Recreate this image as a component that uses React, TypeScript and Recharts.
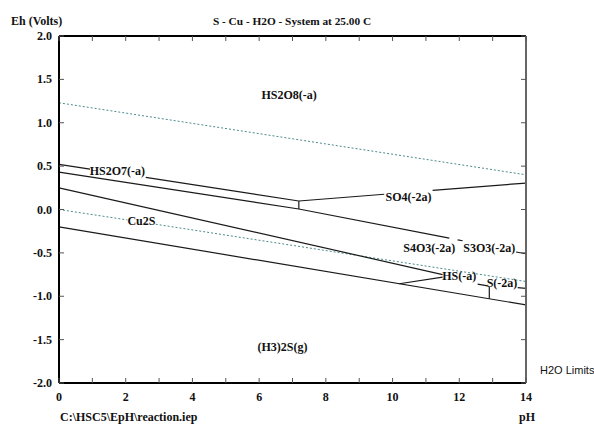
import React from 'react';
import { LineChart, Line, XAxis, YAxis, ReferenceDot } from 'recharts';

// pH / Eh coordinates
const h2oUpper = [{ ph: 0, eh: 1.23 }, { ph: 14, eh: 0.4 }];
const h2oLowerA = [{ ph: 0, eh: 0.0 }, { ph: 2.05, eh: -0.12 }];
const h2oLowerB = [{ ph: 2.9, eh: -0.17 }, { ph: 14, eh: -0.83 }];

const hs2o8LeftA = [{ ph: 0, eh: 0.52 }, { ph: 0.93, eh: 0.465 }];
const hs2o8LeftB = [{ ph: 2.6, eh: 0.37 }, { ph: 7.19, eh: 0.098 }];
const so4UpperA = [{ ph: 7.19, eh: 0.098 }, { ph: 9.75, eh: 0.176 }];
const so4UpperB = [{ ph: 11.2, eh: 0.22 }, { ph: 14, eh: 0.305 }];
const junctionA = [{ ph: 7.19, eh: 0.098 }, { ph: 7.19, eh: 0.006 }];

const so4Lower = [{ ph: 0, eh: 0.43 }, { ph: 7.19, eh: 0.006 }, { ph: 11.7, eh: -0.33 }];
const s4o3Bit = [{ ph: 11.95, eh: -0.35 }, { ph: 12.1, eh: -0.36 }];
const s3o3Bit = [{ ph: 13.7, eh: -0.49 }, { ph: 14, eh: -0.51 }];

const cu2sUpper = [{ ph: 0, eh: 0.25 }, { ph: 11.5, eh: -0.75 }];
const hsBranch = [{ ph: 10.2, eh: -0.856 }, { ph: 11.5, eh: -0.78 }];
const hsBit = [{ ph: 12.55, eh: -0.86 }, { ph: 12.85, eh: -0.88 }];
const s2Bit = [{ ph: 13.75, eh: -0.9 }, { ph: 14, eh: -0.91 }];
const junctionB = [{ ph: 12.9, eh: -0.89 }, { ph: 12.9, eh: -1.03 }];
const cu2sLower = [{ ph: 0, eh: -0.2 }, { ph: 14, eh: -1.1 }];

const solidSegments = [
  hs2o8LeftA, hs2o8LeftB, so4UpperA, so4UpperB, junctionA,
  so4Lower, s4o3Bit, s3o3Bit,
  cu2sUpper, hsBranch, hsBit, s2Bit, junctionB, cu2sLower,
];
const dottedSegments = [h2oUpper, h2oLowerA, h2oLowerB];

const speciesNames = ['HS2O8(-a)', 'HS2O7(-a)', 'SO4(-2a)', 'S4O3(-2a)', 'S3O3(-2a)', 'Cu2S', 'HS(-a)', 'S(-2a)', '(H3)2S(g)'];
const speciesPh = [6.9, 1.75, 10.48, 11.1, 12.9, 2.47, 12.0, 13.28, 6.7];
const speciesEh = [1.32, 0.44, 0.14, -0.44, -0.44, -0.13, -0.77, -0.85, -1.58];

const phTicks = [0, 1, 2, 3, 4, 5, 6, 7, 8, 9, 10, 11, 12, 13, 14];
const ehTicks = [-2, -1.5, -1, -0.5, 0, 0.5, 1, 1.5, 2];

const SERIF = '"Liberation Serif", serif';
const LINE = '#1a1a1a';
const DOT = '#4d8b8c';

const BottomTick = ({ x, y, payload }: any) => (
  <g>
    <line x1={x} x2={x} y1={y} y2={y - 5} stroke="#555" />
    {payload.value % 2 === 0 && (
      <text x={x} y={y + 18} textAnchor="middle" fontFamily={SERIF} fontWeight="bold" fontSize={12} fill="#111">
        {payload.value}
      </text>
    )}
  </g>
);

const TopTick = ({ x, y }: any) => <line x1={x} x2={x} y1={y} y2={y + 5} stroke="#555" />;

const LeftTick = ({ x, y, payload }: any) => (
  <g>
    <line x1={x} x2={x + 5} y1={y} y2={y} stroke="#555" />
    <text x={x - 7} y={y + 4} textAnchor="end" fontFamily={SERIF} fontWeight="bold" fontSize={12} fill="#111">
      {Number(payload.value).toFixed(1)}
    </text>
  </g>
);

const RightTick = ({ x, y }: any) => <line x1={x} x2={x - 5} y1={y} y2={y} stroke="#555" />;

const SpeciesLabel = (name: string) => (props: any) => (
  <text x={props.cx} y={props.cy} dy={4} textAnchor="middle" fontFamily={SERIF} fontWeight="bold" fontSize={12} fill="#111">
    {name}
  </text>
);

const textStyle: React.CSSProperties = {
  position: 'absolute',
  fontFamily: SERIF,
  fontWeight: 'bold',
  fontSize: 12,
  color: '#111',
  whiteSpace: 'nowrap',
  lineHeight: '14px',
};

export default function App() {
  return (
    <div style={{ position: 'relative', width: 594, height: 432, background: '#fff' }}>
      <style>{'body{margin:0}'}</style>
      <div style={{ ...textStyle, left: 11, top: 14 }}>Eh (Volts)</div>
      <div style={{ ...textStyle, left: 0, width: 584, top: 14, textAlign: 'center', fontSize: 11.3 }}>
        S - Cu - H2O - System at 25.00 C
      </div>
      <div style={{ ...textStyle, left: 540, top: 363, fontFamily: '"Liberation Sans", Arial, sans-serif', fontWeight: 'normal', fontSize: 11 }}>
        H2O Limits
      </div>
      <div style={{ ...textStyle, left: 60, top: 410 }}>C:\HSC5\EpH\reaction.iep</div>
      <div style={{ ...textStyle, left: 519, top: 410 }}>pH</div>
      <LineChart width={594} height={432} margin={{ top: 26, right: 58, bottom: 19, left: 19 }}>
        <XAxis
          xAxisId="bottom"
          type="number"
          dataKey="ph"
          domain={[0, 14]}
          ticks={phTicks}
          interval={0}
          tick={<BottomTick />}
          tickSize={0}
          tickMargin={0}
          tickLine={false}
          axisLine={{ stroke: '#000', strokeWidth: 2 }}
          height={30}
        />
        <XAxis
          xAxisId="top"
          orientation="top"
          type="number"
          dataKey="ph"
          domain={[0, 14]}
          ticks={phTicks}
          interval={0}
          tick={<TopTick />}
          tickSize={0}
          tickMargin={0}
          tickLine={false}
          axisLine={{ stroke: '#000', strokeWidth: 2 }}
          height={10}
        />
        <YAxis
          yAxisId="left"
          type="number"
          dataKey="eh"
          domain={[-2, 2]}
          ticks={ehTicks}
          interval={0}
          tick={<LeftTick />}
          tickSize={0}
          tickMargin={0}
          tickLine={false}
          axisLine={{ stroke: '#000', strokeWidth: 2 }}
          width={40}
        />
        <YAxis
          yAxisId="right"
          orientation="right"
          type="number"
          dataKey="eh"
          domain={[-2, 2]}
          ticks={ehTicks}
          interval={0}
          tick={<RightTick />}
          tickSize={0}
          tickMargin={0}
          tickLine={false}
          axisLine={{ stroke: '#666', strokeWidth: 2 }}
          width={10}
        />
        <Line
          xAxisId="top"
          yAxisId="right"
          data={h2oUpper}
          dataKey="eh"
          stroke="none"
          dot={false}
          isAnimationActive={false}
        />
        {dottedSegments.map((seg, i) => (
          <Line
            key={`dot-${i}`}
            xAxisId="bottom"
            yAxisId="left"
            data={seg}
            dataKey="eh"
            type="linear"
            stroke={DOT}
            strokeWidth={1}
            strokeDasharray="2 2"
            dot={false}
            isAnimationActive={false}
          />
        ))}
        {solidSegments.map((seg, i) => (
          <Line
            key={`seg-${i}`}
            xAxisId="bottom"
            yAxisId="left"
            data={seg}
            dataKey="eh"
            type="linear"
            stroke={LINE}
            strokeWidth={1.2}
            dot={false}
            isAnimationActive={false}
          />
        ))}
        {speciesNames.map((name, i) => (
          <ReferenceDot
            key={name}
            xAxisId="bottom"
            yAxisId="left"
            x={speciesPh[i]}
            y={speciesEh[i]}
            r={0}
            shape={SpeciesLabel(name)}
          />
        ))}
      </LineChart>
    </div>
  );
}
